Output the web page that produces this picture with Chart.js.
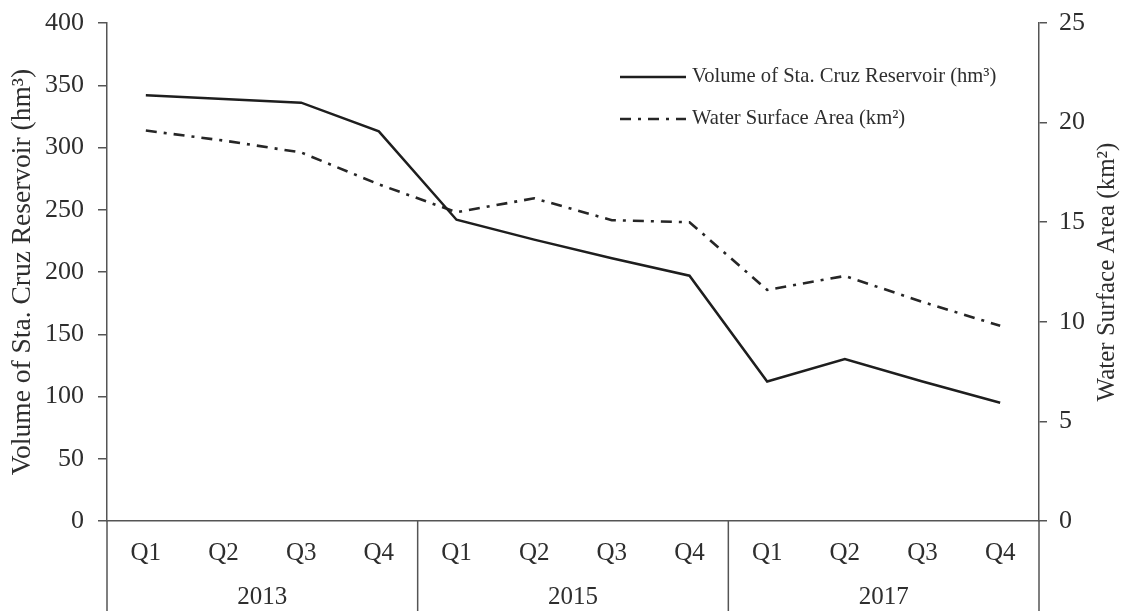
<!DOCTYPE html>
<html>
<head>
<meta charset="utf-8">
<script src="https://cdn.jsdelivr.net/npm/chart.js@4.4.0/dist/chart.umd.min.js"></script>
<style>
  html, body { margin: 0; padding: 0; background: #ffffff; }
  #wrap { width: 1124px; height: 611px; position: relative; }
</style>
</head>
<body>
<div id="wrap"><canvas id="c" width="1124" height="611"></canvas></div>
<script>
// Quarterly reservoir data, 2013 / 2015 / 2017
const quarters = ['Q1', 'Q2', 'Q3', 'Q4', 'Q1', 'Q2', 'Q3', 'Q4', 'Q1', 'Q2', 'Q3', 'Q4'];
const years = ['2013', '2015', '2017'];
const volume = [342, 339, 336, 313, 242, 226, 211, 197, 112, 130, 112, 95];          // hm³
const surfaceArea = [19.6, 19.1, 18.5, 16.9, 15.5, 16.2, 15.1, 15.0, 11.6, 12.3, 11.0, 9.8]; // km²

const volumeLabel = 'Volume of Sta. Cruz Reservoir (hm\u00B3)';
const areaLabel = 'Water Surface Area (km\u00B2)';
const leftTitle = 'Volume of Sta. Cruz Reservoir (hm\u00B3)';
const rightTitle = 'Water Surface Area (km\u00B2)';

const SERIF = "'Liberation Serif', 'Times New Roman', serif";
const INK = '#2e2e2e';
const AXIS = '#555555';

// Year groups under the quarter labels, plus legend and right-hand title
const decorations = {
  id: 'decorations',
  afterDraw(chart) {
    const ctx = chart.ctx;
    const x = chart.scales.x;
    const area = chart.chartArea;
    const H = chart.height;
    const step = x.getPixelForValue(1) - x.getPixelForValue(0);

    ctx.save();
    ctx.strokeStyle = AXIS;
    ctx.lineWidth = 1.5;
    // axis lines carried down through the category band
    const edges = [area.left, area.right];
    for (let g = 1; g < years.length; g++) {
      edges.push(x.getPixelForValue(g * 4) - step / 2);
    }
    edges.forEach(px => {
      ctx.beginPath();
      ctx.moveTo(px, area.bottom);
      ctx.lineTo(px, H);
      ctx.stroke();
    });

    // year labels centred under each group of four quarters
    ctx.fillStyle = INK;
    ctx.font = '25px ' + SERIF;
    ctx.textAlign = 'center';
    ctx.textBaseline = 'middle';
    years.forEach((yr, g) => {
      const cx = (x.getPixelForValue(g * 4) + x.getPixelForValue(g * 4 + 3)) / 2;
      ctx.fillText(yr, cx, 597);
    });

    // right-hand axis title, reading bottom to top
    ctx.save();
    ctx.translate(1107, (area.top + area.bottom) / 2);
    ctx.rotate(-Math.PI / 2);
    ctx.font = '25px ' + SERIF;
    ctx.fillText(rightTitle, 0, 0);
    ctx.restore();

    // legend
    const rows = [77, 119];
    chart.data.datasets.forEach((ds, i) => {
      const y = rows[i];
      ctx.beginPath();
      ctx.strokeStyle = ds.borderColor;
      ctx.lineWidth = ds.borderWidth;
      ctx.setLineDash(ds.borderDash || []);
      ctx.moveTo(620, y);
      ctx.lineTo(686, y);
      ctx.stroke();
      ctx.setLineDash([]);
      ctx.fillStyle = INK;
      ctx.font = '20.6px ' + SERIF;
      ctx.textAlign = 'left';
      ctx.textBaseline = 'middle';
      ctx.fillText(ds.label, 692, y);
    });
    ctx.restore();
  }
};

// value axes keep a fixed width and let the end labels overhang the plot
function fixValueAxis(width) {
  return function (scale) {
    scale.width = width;
    scale.paddingTop = 0;
    scale.paddingBottom = 0;
  };
}

new Chart(document.getElementById('c'), {
  type: 'line',
  data: {
    labels: quarters,
    datasets: [
      {
        label: volumeLabel,
        data: volume,
        yAxisID: 'y',
        borderColor: '#1e1e1e',
        borderWidth: 2.5,
        pointRadius: 0,
        tension: 0,
        fill: false
      },
      {
        label: areaLabel,
        data: surfaceArea,
        yAxisID: 'y2',
        borderColor: '#262626',
        borderWidth: 2.6,
        borderDash: [11, 7, 3, 7],
        pointRadius: 0,
        tension: 0,
        fill: false
      }
    ]
  },
  options: {
    responsive: false,
    animation: false,
    devicePixelRatio: 1,
    layout: { padding: { top: 23, left: 0, right: 0, bottom: 0 } },
    plugins: {
      legend: { display: false },
      tooltip: { enabled: false }
    },
    scales: {
      x: {
        type: 'category',
        offset: true,
        grid: { display: true, drawOnChartArea: false, drawTicks: false, color: AXIS },
        border: { display: true, color: AXIS, width: 1.5 },
        ticks: {
          color: INK,
          font: { family: SERIF, size: 25 },
          padding: 17,
          maxRotation: 0,
          autoSkip: false
        },
        afterFit(scale) {
          scale.height = 90;
          scale.paddingLeft = 0;
          scale.paddingRight = 0;
        }
      },
      y: {
        type: 'linear',
        position: 'left',
        min: 0,
        max: 400,
        grid: { drawOnChartArea: false, drawTicks: true, tickLength: 9, color: AXIS, lineWidth: 1.5 },
        border: { display: true, color: AXIS, width: 1.5 },
        ticks: {
          stepSize: 50,
          color: INK,
          font: { family: SERIF, size: 26 },
          padding: 14
        },
        title: {
          display: true,
          text: leftTitle,
          color: INK,
          font: { family: SERIF, size: 27.5 },
          padding: { top: 6, bottom: 0 }
        },
        afterFit: fixValueAxis(107)
      },
      y2: {
        type: 'linear',
        position: 'right',
        min: 0,
        max: 25,
        grid: { drawOnChartArea: false, drawTicks: true, tickLength: 8, color: AXIS, lineWidth: 1.5 },
        border: { display: true, color: AXIS, width: 1.5 },
        ticks: {
          stepSize: 5,
          color: INK,
          font: { family: SERIF, size: 26 },
          padding: 12
        },
        afterFit: fixValueAxis(85)
      }
    }
  },
  plugins: [decorations]
});
</script>
</body>
</html>
